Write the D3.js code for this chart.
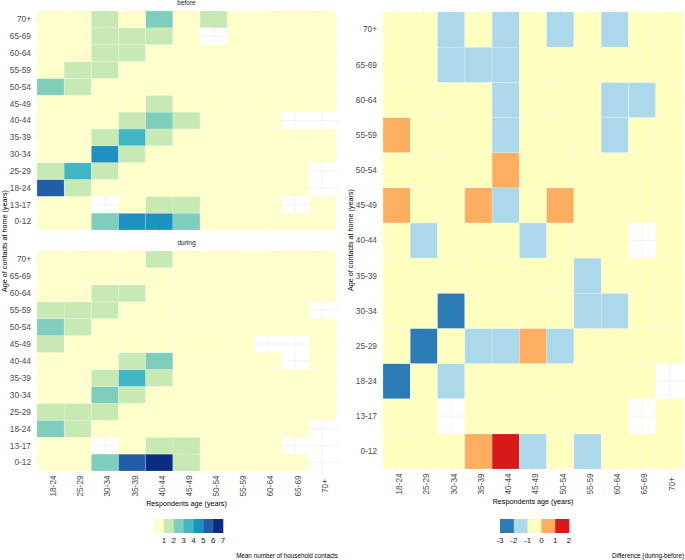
<!DOCTYPE html>
<html>
<head>
<meta charset="utf-8">
<script src="https://d3js.org/d3.v7.min.js"></script>
<style>
  body { margin: 0; background: #fff; }
  svg { font-family: "Liberation Sans", Arial, sans-serif; }
</style>
</head>
<body>
<svg id="chart" width="685" height="560"></svg>
<script>
const respondentAges = ["18-24", "25-29", "30-34", "35-39", "40-44", "45-49", "50-54", "55-59", "60-64", "65-69", "70+"];
const contactAges = ["0-12", "13-17", "18-24", "25-29", "30-34", "35-39", "40-44", "45-49", "50-54", "55-59", "60-64", "65-69", "70+"];

// mean household contacts, one row per contact age (0-12 first), one column per respondent age
const beforeMeans = [
  [0.5, 0.5, 2.5, 4.5, 4.5, 2.5, 0.5, 0.5, 0.5, 0.5, 0.5],
  [0.5, 0.5, null, 0.5, 1.5, 1.5, 0.5, 0.5, 0.5, null, 0.5],
  [5.5, 1.5, 0.5, 0.5, 0.5, 0.5, 0.5, 0.5, 0.5, 0.5, null],
  [1.5, 3.5, 1.5, 0.5, 0.5, 0.5, 0.5, 0.5, 0.5, 0.5, null],
  [0.5, 0.5, 4.5, 1.5, 0.5, 0.5, 0.5, 0.5, 0.5, 0.5, 0.5],
  [0.5, 0.5, 1.5, 3.5, 1.5, 0.5, 0.5, 0.5, 0.5, 0.5, 0.5],
  [0.5, 0.5, 0.5, 1.5, 2.5, 1.5, 0.5, 0.5, 0.5, null, null],
  [0.5, 0.5, 0.5, 0.5, 1.5, 0.5, 0.5, 0.5, 0.5, 0.5, 0.5],
  [2.5, 1.5, 0.5, 0.5, 0.5, 0.5, 0.5, 0.5, 0.5, 0.5, 0.5],
  [0.5, 1.5, 1.5, 0.5, 0.5, 0.5, 0.5, 0.5, 0.5, 0.5, 0.5],
  [0.5, 0.5, 1.5, 1.5, 0.5, 0.5, 0.5, 0.5, 0.5, 0.5, 0.5],
  [0.5, 0.5, 1.5, 1.5, 1.5, 0.5, null, 0.5, 0.5, 0.5, 0.5],
  [0.5, 0.5, 1.5, 0.5, 2.5, 0.5, 1.5, 0.5, 0.5, 0.5, 0.5]
];

const duringMeans = [
  [0.5, 0.5, 2.5, 5.5, 6.5, 1.5, 0.5, 0.5, 0.5, 0.5, null],
  [0.5, 0.5, null, 0.5, 1.5, 1.5, 0.5, 0.5, 0.5, null, null],
  [2.5, 1.5, 0.5, 0.5, 0.5, 0.5, 0.5, 0.5, 0.5, 0.5, null],
  [1.5, 1.5, 1.5, 0.5, 0.5, 0.5, 0.5, 0.5, 0.5, 0.5, 0.5],
  [0.5, 0.5, 2.5, 1.5, 0.5, 0.5, 0.5, 0.5, 0.5, 0.5, 0.5],
  [0.5, 0.5, 1.5, 3.5, 1.5, 0.5, 0.5, 0.5, 0.5, 0.5, 0.5],
  [0.5, 0.5, 0.5, 1.5, 2.5, 0.5, 0.5, 0.5, 0.5, null, 0.5],
  [1.5, 0.5, 0.5, 0.5, 0.5, 0.5, 0.5, 0.5, null, null, 0.5],
  [2.5, 1.5, 0.5, 0.5, 0.5, 0.5, 0.5, 0.5, 0.5, 0.5, 0.5],
  [1.5, 1.5, 1.5, 0.5, 0.5, 0.5, 0.5, 0.5, 0.5, 0.5, null],
  [0.5, 0.5, 1.5, 1.5, 0.5, 0.5, 0.5, 0.5, 0.5, 0.5, 0.5],
  [0.5, 0.5, 0.5, 0.5, 0.5, 0.5, 0.5, 0.5, 0.5, 0.5, 0.5],
  [0.5, 0.5, 0.5, 0.5, 1.5, 0.5, 0.5, 0.5, 0.5, 0.5, 0.5]
];

// difference during - before
const diffValues = [
  [-0.5, -0.5, -0.5, 0.5, 1.5, -1.5, -0.5, -1.5, -0.5, -0.5, -0.5],
  [-0.5, -0.5, null, -0.5, -0.5, -0.5, -0.5, -0.5, -0.5, null, -0.5],
  [-2.5, -0.5, -1.5, -0.5, -0.5, -0.5, -0.5, -0.5, -0.5, -0.5, null],
  [-0.5, -2.5, -0.5, -1.5, -1.5, 0.5, -1.5, -0.5, -0.5, -0.5, -0.5],
  [-0.5, -0.5, -2.5, -0.5, -0.5, -0.5, -0.5, -1.5, -1.5, -0.5, -0.5],
  [-0.5, -0.5, -0.5, -0.5, -0.5, -0.5, -0.5, -1.5, -0.5, -0.5, -0.5],
  [-0.5, -1.5, -0.5, -0.5, -0.5, -1.5, -0.5, -0.5, -0.5, null, -0.5],
  [0.5, -0.5, -0.5, 0.5, -1.5, -0.5, 0.5, -0.5, -0.5, -0.5, -0.5],
  [-0.5, -0.5, -0.5, -0.5, 0.5, -0.5, -0.5, -0.5, -0.5, -0.5, -0.5],
  [0.5, -0.5, -0.5, -0.5, -1.5, -0.5, -0.5, -0.5, -1.5, -0.5, -0.5],
  [-0.5, -0.5, -0.5, -0.5, -1.5, -0.5, -0.5, -0.5, -1.5, -1.5, -0.5],
  [-0.5, -0.5, -1.5, -1.5, -1.5, -0.5, -0.5, -0.5, -0.5, -0.5, -0.5],
  [-0.5, -0.5, -1.5, -0.5, -1.5, -0.5, -1.5, -0.5, -1.5, -0.5, -0.5]
];

const meanBreaks = [1, 2, 3, 4, 5, 6];
const meanColors = ["#ffffcc", "#c7e9b4", "#7fcdbb", "#41b6c4", "#1d91c0", "#225ea8", "#0c2c84"];
const meanLegendLabels = ["1", "2", "3", "4", "5", "6", "7"];

const diffBreaks = [-2, -1, 0, 1];
const diffColors = ["#2c7bb6", "#abd9e9", "#ffffbf", "#fdae61", "#d7191c"];
const diffLegendLabels = ["-3", "-2", "-1", "0", "1", "2"];

const svg = d3.select("#chart");
const tickColor = "#4d4d4d";
const gridColor = "#ebebeb";

function toCells(values) {
  let cells = [];
  values.forEach((row, i) => {
    row.forEach((v, j) => {
      if (v !== null) cells.push({ contact: contactAges[i], resp: respondentAges[j], value: v });
    });
  });
  return cells;
}

function drawPanel(p) {
  let x = d3.scaleBand().domain(respondentAges).range([p.x0, p.x1]);
  let y = d3.scaleBand().domain(contactAges.slice().reverse()).range([p.y0, p.y1]);
  let padX = x.bandwidth() * 0.1, padY = y.bandwidth() * 0.1;
  let g = svg.append("g");

  // grid lines (theme_minimal)
  g.selectAll(".vgrid").data(respondentAges).join("line")
    .attr("x1", d => x(d) + x.bandwidth() / 2).attr("x2", d => x(d) + x.bandwidth() / 2)
    .attr("y1", p.y0 - padY).attr("y2", p.y1 + padY)
    .attr("stroke", gridColor).attr("stroke-width", 0.6);
  g.selectAll(".hgrid").data(contactAges).join("line")
    .attr("y1", d => y(d) + y.bandwidth() / 2).attr("y2", d => y(d) + y.bandwidth() / 2)
    .attr("x1", p.x0 - padX).attr("x2", p.x1 + padX)
    .attr("stroke", gridColor).attr("stroke-width", 0.6);

  g.selectAll("rect").data(toCells(p.values)).join("rect")
    .attr("x", d => x(d.resp)).attr("y", d => y(d.contact))
    .attr("width", x.bandwidth()).attr("height", y.bandwidth())
    .attr("fill", d => p.color(d.value))
    .attr("stroke", "#ffffff").attr("stroke-opacity", 0.3).attr("stroke-width", 0.6);

  // y tick labels
  g.selectAll(".ylab").data(contactAges).join("text")
    .attr("x", p.x0 - 6).attr("y", d => y(d) + y.bandwidth() / 2)
    .attr("dy", "0.35em").attr("text-anchor", "end")
    .attr("font-size", 8.3).attr("fill", tickColor)
    .text(d => d);

  if (p.title) {
    g.append("text").attr("x", (p.x0 + p.x1) / 2).attr("y", p.y0 - 6)
      .attr("text-anchor", "middle").attr("font-size", 6.5).attr("fill", "#1a1a1a")
      .text(p.title);
  }

  if (p.showX) {
    g.selectAll(".xlab").data(respondentAges).join("text")
      .attr("transform", d => `translate(${x(d) + x.bandwidth() / 2 + 5.4},${p.y1 + 15}) rotate(-90)`)
      .attr("text-anchor", "middle")
      .attr("font-size", 8.3).attr("fill", tickColor)
      .text(d => d);
    g.append("text").attr("x", (p.x0 + p.x1) / 2).attr("y", p.y1 + 35)
      .attr("text-anchor", "middle").attr("font-size", 7.2).attr("fill", "#000")
      .text("Respondents age (years)");
  }
}

function drawLegend(colors, labels, x0, width, edgeLabels, title, titleRight) {
  let n = colors.length;
  let lx = d3.scaleLinear().domain([0, n]).range([x0, x0 + width]);
  let g = svg.append("g");
  g.selectAll("rect").data(colors).join("rect")
    .attr("x", (d, i) => lx(i)).attr("y", 519)
    .attr("width", lx(1) - lx(0) + 0.3).attr("height", 14)
    .attr("fill", d => d);
  g.selectAll("text.lab").data(labels).join("text")
    .attr("class", "lab")
    .attr("x", (d, i) => edgeLabels ? lx(i) : lx(i + 1))
    .attr("y", 543).attr("text-anchor", "middle")
    .attr("font-size", 8).attr("fill", "#1a1a1a")
    .text(d => d);
  g.append("text").attr("x", titleRight).attr("y", 557.5)
    .attr("text-anchor", "end").attr("font-size", 6.3).attr("fill", "#000")
    .text(title);
}

let meanColor = d3.scaleThreshold().domain(meanBreaks).range(meanColors);
let diffColor = d3.scaleThreshold().domain(diffBreaks).range(diffColors);

drawPanel({ x0: 37, x1: 336, y0: 11, y1: 230, values: beforeMeans, color: meanColor, title: "before", showX: false });
drawPanel({ x0: 37, x1: 336, y0: 251, y1: 471, values: duringMeans, color: meanColor, title: "during", showX: true });
drawPanel({ x0: 383, x1: 683, y0: 12, y1: 469, values: diffValues, color: diffColor, title: null, showX: true });

// shared y titles
svg.append("text").attr("transform", "translate(7,241) rotate(-90)")
  .attr("text-anchor", "middle").attr("font-size", 7.2).attr("fill", "#000")
  .text("Age of contacts at home (years)");
svg.append("text").attr("transform", "translate(353,240) rotate(-90)")
  .attr("text-anchor", "middle").attr("font-size", 7.2).attr("fill", "#000")
  .text("Age of contacts at home (years)");

drawLegend(meanColors, meanLegendLabels, 154, 69, false, "Mean number of household contacts", 338);
drawLegend(diffColors, diffLegendLabels, 500, 69, true, "Difference (during-before)", 684);
</script>
</body>
</html>
